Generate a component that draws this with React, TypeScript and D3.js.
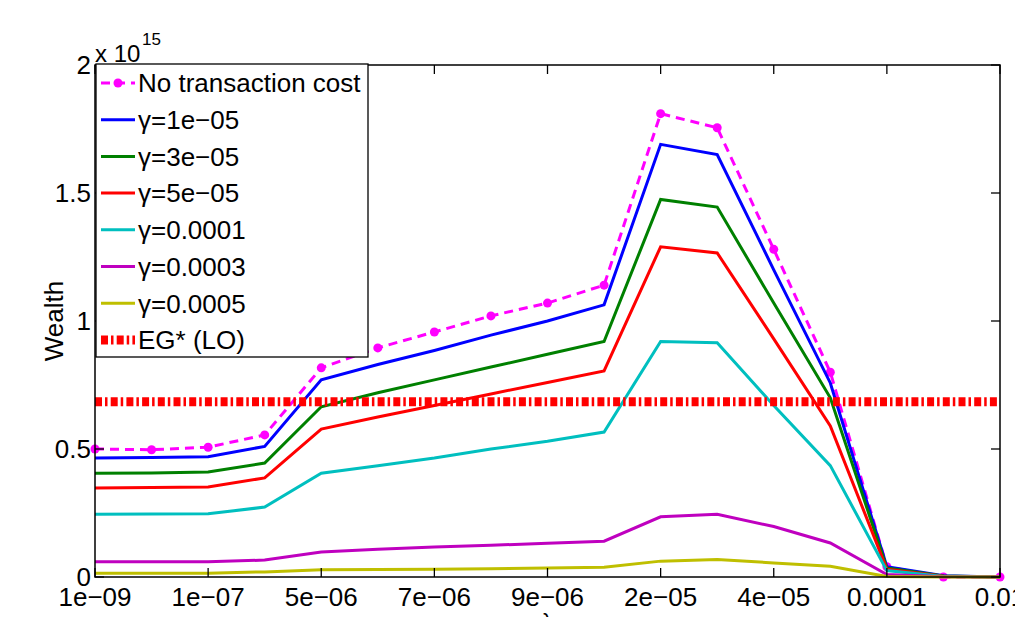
import React from "react";
import * as d3 from "d3";

const xTickLabels = ["1e\u221209", "1e\u221207", "5e\u221206", "7e\u221206", "9e\u221206", "2e\u221205", "4e\u221205", "0.0001", "0.01"];
const yTicks = [0, 0.5, 1, 1.5, 2];

const noCost = [0.5, 0.497, 0.507, 0.555, 0.817, 0.895, 0.957, 1.02, 1.07, 1.14, 1.81, 1.755, 1.28, 0.8, 0.04, 0.0, 0.0];
const g1e5 = [0.465, 0.467, 0.47, 0.51, 0.77, 0.83, 0.885, 0.945, 1.0, 1.063, 1.69, 1.65, 1.2, 0.758, 0.04, 0.005, 0.0];
const g3e5 = [0.405, 0.406, 0.41, 0.445, 0.665, 0.72, 0.77, 0.82, 0.87, 0.92, 1.475, 1.445, 1.07, 0.7, 0.035, 0.004, 0.0];
const g5e5 = [0.348, 0.35, 0.352, 0.387, 0.578, 0.625, 0.67, 0.715, 0.76, 0.805, 1.29, 1.266, 0.93, 0.59, 0.03, 0.003, 0.0];
const g1e4 = [0.245, 0.246, 0.247, 0.273, 0.405, 0.435, 0.465, 0.5, 0.53, 0.566, 0.92, 0.915, 0.67, 0.435, 0.025, 0.002, 0.0];
const g3e4 = [0.06, 0.06, 0.06, 0.066, 0.098, 0.108, 0.117, 0.124, 0.132, 0.14, 0.235, 0.245, 0.197, 0.133, 0.01, 0.001, 0.0];
const g5e4 = [0.015, 0.015, 0.015, 0.02, 0.028, 0.029, 0.03, 0.032, 0.035, 0.038, 0.062, 0.068, 0.055, 0.042, 0.002, 0.0, 0.0];
const egLevel = 0.685;

const series = [
  { name: "No transaction cost", values: noCost, color: "#ff00ff", dash: "9,6", markers: true },
  { name: "\u03b3=1e\u221205", values: g1e5, color: "#0000ff", dash: null, markers: false },
  { name: "\u03b3=3e\u221205", values: g3e5, color: "#008000", dash: null, markers: false },
  { name: "\u03b3=5e\u221205", values: g5e5, color: "#ff0000", dash: null, markers: false },
  { name: "\u03b3=0.0001", values: g1e4, color: "#00bfbf", dash: null, markers: false },
  { name: "\u03b3=0.0003", values: g3e4, color: "#bf00bf", dash: null, markers: false },
  { name: "\u03b3=0.0005", values: g5e4, color: "#bfbf00", dash: null, markers: false },
];

const W = 1015, H = 617;
const L = 95, R = 1000, T = 65, B = 577;
const FONT = "'Liberation Sans', Arial, Helvetica, sans-serif";
const EG_DASH = "7,3,2.5,3.2";

export default function App() {
  const n = noCost.length;
  const x = d3.scaleLinear().domain([0, n - 1]).range([L, R]);
  const y = d3.scaleLinear().domain([0, 2]).range([B, T]);
  const line = d3.line<number>().x((_, i) => x(i)).y((v) => y(v));
  const tickIdx = xTickLabels.map((_, i) => i * 2);

  const legX = 96, legY = 64, legW = 272, legH = 293;
  const rowH = 36.7;
  const rows = [...series.map((s) => ({ ...s, eg: false })), { name: "EG* (LO)", values: [], color: "#ff0000", dash: EG_DASH, markers: false, eg: true }];

  return (
    <svg width={W} height={H} style={{ position: "absolute", left: 0, top: 0, background: "#fff" }} fontFamily={FONT}>
      <rect x={0} y={0} width={W} height={H} fill="#fff" />
      {series.map((s) => (
        <g key={s.name}>
          <path d={line(s.values) || ""} fill="none" stroke={s.color} strokeWidth={3} strokeDasharray={s.dash || undefined} strokeLinejoin="miter" />
          {s.markers && s.values.map((v, i) => <circle key={i} cx={x(i)} cy={y(v)} r={4.5} fill={s.color} />)}
        </g>
      ))}
      <line x1={x(0)} x2={x(n - 1)} y1={y(egLevel)} y2={y(egLevel)} stroke="#ff0000" strokeWidth={9} strokeDasharray={EG_DASH} />
      <rect x={L} y={T} width={R - L} height={B - T} fill="none" stroke="#000" strokeWidth={1.5} />
      {tickIdx.map((ti, k) => (
        <g key={"xt" + k}>
          <line x1={x(ti)} x2={x(ti)} y1={B} y2={B - 9} stroke="#000" strokeWidth={1.3} />
          <line x1={x(ti)} x2={x(ti)} y1={T} y2={T + 9} stroke="#000" strokeWidth={1.3} />
          <text x={x(ti)} y={606} textAnchor="middle" fontSize={26} fill="#000">{xTickLabels[k]}</text>
        </g>
      ))}
      {yTicks.map((v) => (
        <g key={"yt" + v}>
          <line x1={L} x2={L + 9} y1={y(v)} y2={y(v)} stroke="#000" strokeWidth={1.3} />
          <line x1={R} x2={R - 9} y1={y(v)} y2={y(v)} stroke="#000" strokeWidth={1.3} />
          <text x={91} y={y(v)} dy="0.36em" textAnchor="end" fontSize={26} fill="#000">{String(v)}</text>
        </g>
      ))}
      <text x={95} y={62} fontSize={24} fill="#000">x 10</text>
      <text x={142} y={45} fontSize={17} fill="#000">15</text>
      <text transform={`translate(63,321) rotate(-90)`} textAnchor="middle" fontSize={26} fill="#000">Wealth</text>
      <text x={(L + R) / 2} y={629} textAnchor="middle" fontSize={22} fill="#000">λ</text>
      <rect x={legX} y={legY} width={legW} height={legH} fill="#fff" stroke="#000" strokeWidth={1.3} />
      {rows.map((r, i) => {
        const cy = 83 + i * rowH;
        return (
          <g key={"lg" + i}>
            <line x1={101} x2={135} y1={cy} y2={cy} stroke={r.color} strokeWidth={r.eg ? 9 : 3} strokeDasharray={r.dash || undefined} />
            {r.markers && <circle cx={118} cy={cy} r={4.5} fill={r.color} />}
            <text x={138} y={cy} dy="0.36em" fontSize={26} fill="#000">{r.name}</text>
          </g>
        );
      })}
    </svg>
  );
}
